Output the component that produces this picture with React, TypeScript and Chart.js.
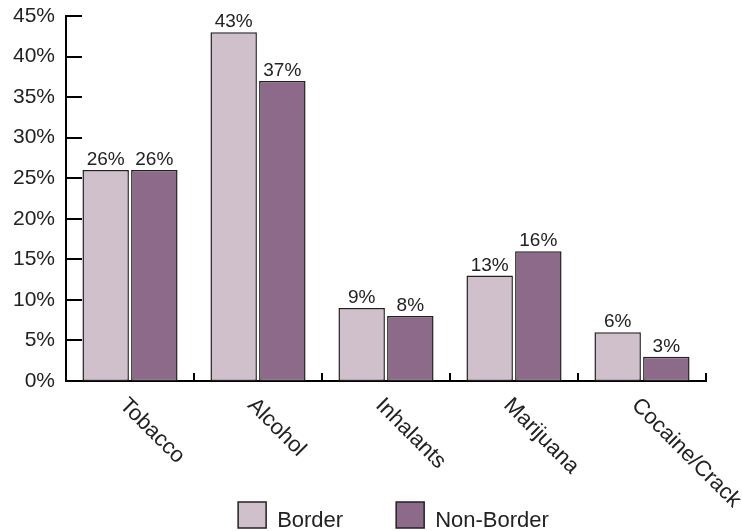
import React, { useEffect, useRef } from "react";
import { Chart, registerables } from "chart.js";

Chart.register(...registerables);

const categories = ["Tobacco", "Alcohol", "Inhalants", "Marijuana", "Cocaine/Crack"];
const borderValues = [26, 43, 9, 13, 6];
const nonBorderValues = [26, 37, 8, 16, 3];
const seriesNames = ["Border", "Non-Border"];
const yTickMax = 45;
const yTickStep = 5;

const FONT = '"Liberation Sans", Arial, Helvetica, sans-serif';
const TEXT = "#222222";
const LIGHT = "#D0C0CC";
const DARK = "#8D6A8A";

const decorPlugin = {
  id: "decor",
  afterDatasetsDraw(chart: any) {
    const ctx = chart.ctx;
    const area = chart.chartArea;
    const xs = chart.scales.x;
    const ys = chart.scales.y;
    ctx.save();
    // y tick marks (inward)
    ctx.strokeStyle = "#000";
    ctx.lineWidth = 2;
    ys.ticks.forEach((t: any) => {
      const y = Math.round(ys.getPixelForValue(t.value));
      ctx.beginPath();
      ctx.moveTo(area.left, y);
      ctx.lineTo(area.left + 16, y);
      ctx.stroke();
    });
    // x tick marks at category boundaries (inward)
    const n = chart.data.labels.length;
    const half = (xs.getPixelForTick(1) - xs.getPixelForTick(0)) / 2;
    for (let i = 0; i < n; i++) {
      const x = Math.round(xs.getPixelForTick(i) + half);
      ctx.beginPath();
      ctx.moveTo(x, area.bottom);
      ctx.lineTo(x, area.bottom - 8);
      ctx.stroke();
    }
    // value labels
    ctx.fillStyle = TEXT;
    ctx.font = `19px ${FONT}`;
    ctx.textAlign = "center";
    ctx.textBaseline = "alphabetic";
    chart.data.datasets.forEach((ds: any, di: number) => {
      const meta = chart.getDatasetMeta(di);
      meta.data.forEach((bar: any, i: number) => {
        ctx.fillText(ds.data[i] + "%", bar.x, bar.y - 5);
      });
    });
    // rotated category labels
    ctx.font = `22px ${FONT}`;
    ctx.textAlign = "left";
    ctx.textBaseline = "middle";
    chart.data.labels.forEach((lab: string, i: number) => {
      const x = xs.getPixelForTick(i);
      ctx.save();
      ctx.translate(x - 7, area.bottom + 21);
      ctx.rotate(Math.PI / 4);
      ctx.fillText(lab, 0, 0);
      ctx.restore();
    });
    // legend
    ctx.font = `22px ${FONT}`;
    ctx.textBaseline = "alphabetic";
    const boxW = 28;
    const boxH = 26;
    const gapText = 11;
    const gapItem = 53;
    const items = chart.data.datasets.map((ds: any) => ({
      label: ds.label,
      color: ds.backgroundColor,
      w: ctx.measureText(ds.label).width,
    }));
    let total = 0;
    items.forEach((it: any, k: number) => {
      total += boxW + gapText + it.w + (k < items.length - 1 ? gapItem : 0);
    });
    let cx = 393.5 - total / 2;
    const boxTop = 502;
    items.forEach((it: any) => {
      ctx.fillStyle = it.color;
      ctx.fillRect(cx, boxTop, boxW, boxH);
      ctx.strokeStyle = "#222";
      ctx.lineWidth = 1.5;
      ctx.strokeRect(cx, boxTop, boxW, boxH);
      ctx.fillStyle = TEXT;
      ctx.fillText(it.label, cx + boxW + gapText, boxTop + 25);
      cx += boxW + gapText + it.w + gapItem;
    });
    ctx.restore();
  },
};

export default function App() {
  const ref = useRef<HTMLCanvasElement | null>(null);
  useEffect(() => {
    if (!ref.current) return;
    const chart = new Chart(ref.current, {
      type: "bar",
      data: {
        labels: categories,
        datasets: [
          {
            label: seriesNames[0],
            data: borderValues,
            backgroundColor: LIGHT,
            borderColor: "#222",
            borderWidth: 1.5,
            borderSkipped: false,
            categoryPercentage: 0.76,
            barPercentage: 0.955,
          },
          {
            label: seriesNames[1],
            data: nonBorderValues,
            backgroundColor: DARK,
            borderColor: "#222",
            borderWidth: 1.5,
            borderSkipped: false,
            categoryPercentage: 0.76,
            barPercentage: 0.955,
          },
        ],
      },
      options: {
        responsive: false,
        animation: false,
        layout: { padding: { top: 16, right: 36, bottom: 0, left: 0 } },
        plugins: {
          legend: { display: false },
          tooltip: { enabled: false },
        },
        scales: {
          x: {
            grid: { display: false, drawTicks: false },
            border: { display: true, color: "#000", width: 2 },
            ticks: { display: false },
            afterFit: (s: any) => {
              s.height = 150;
              s.paddingLeft = 0;
              s.paddingRight = 0;
            },
          },
          y: {
            min: 0,
            max: yTickMax,
            grid: { display: false, drawTicks: false },
            border: { display: true, color: "#000", width: 2 },
            ticks: {
              stepSize: yTickStep,
              padding: 11,
              color: TEXT,
              font: { family: FONT, size: 21 },
              callback: (v: any) => v + "%",
            },
            afterFit: (s: any) => {
              s.width = 66;
              s.paddingTop = 0;
              s.paddingBottom = 0;
            },
          },
        },
      },
      plugins: [decorPlugin],
    });
    return () => chart.destroy();
  }, []);
  return (
    <div style={{ position: "absolute", left: 0, top: 0, width: 742, height: 531, background: "#fff" }}>
      <canvas ref={ref} width={742} height={531} />
    </div>
  );
}
